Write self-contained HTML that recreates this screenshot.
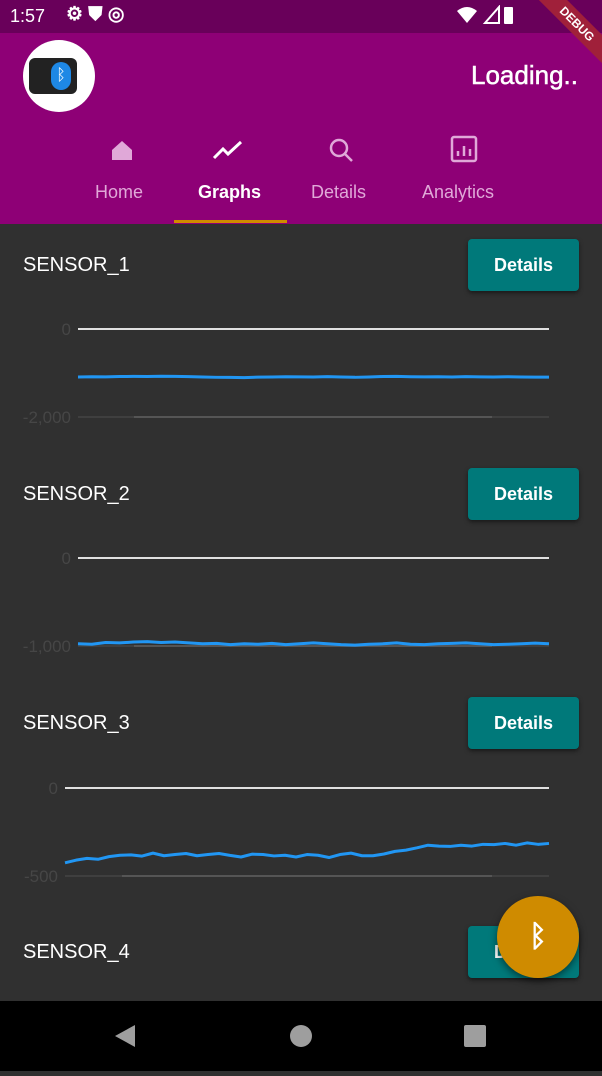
<!DOCTYPE html>
<html><head><meta charset="utf-8">
<style>
*{margin:0;padding:0;box-sizing:border-box}
body{width:602px;height:1071px;overflow:hidden;background:#303030;font-family:"Liberation Sans",sans-serif;position:relative}
.abs{position:absolute}
.title{position:absolute;left:23px;color:#fff;font-size:20px}
.btn{position:absolute;left:468px;width:111px;height:52px;background:#00797a;border-radius:4px;color:#fff;font-size:18px;font-weight:bold;text-align:center;line-height:52px;box-shadow:0 2px 4px rgba(0,0,0,.5)}
.tab{position:absolute;top:182px;font-size:18px;color:#e0a8d8;text-align:center}
</style></head><body>
<div class="abs" style="left:0;top:0;width:602px;height:33px;background:#69005a;color:#fff">
 <span class="abs" style="left:10px;top:6px;font-size:18px">1:57</span>
 <span class="abs" style="left:66px;top:3px;font-size:19px;font-weight:bold">⚙ ⛊ ◎</span>
 <svg class="abs" style="left:455px;top:5px" width="60" height="22"><path d="M2 6 Q12 -2 22 6 L12 18 Z" fill="#fff"/><path d="M44 2 V18 H30 Z" fill="none" stroke="#fff" stroke-width="2"/></svg>
 <span class="abs" style="left:504px;top:7px;width:9px;height:17px;background:#fff;border-radius:1px"></span>
</div>
<div class="abs" style="left:0;top:33px;width:602px;height:191px;background:#8e0076">
 <div class="abs" style="left:23px;top:7px;width:72px;height:72px;border-radius:50%;background:#fff;overflow:hidden">
  <div class="abs" style="left:6px;top:18px;width:48px;height:36px;background:#222;border-radius:6px"></div>
  <div class="abs" style="left:28px;top:22px;width:20px;height:28px;background:#1e88e5;border-radius:10px;color:#fff;font-size:16px;text-align:center;line-height:28px">ᛒ</div>
 </div>
 <span class="abs" style="right:24px;top:27px;color:#fff;font-size:26px;-webkit-text-stroke:0.5px #fff">Loading..</span>
 <svg class="abs" style="left:102px;top:101px" width="420" height="40">
  <path d="M10 26 V16 L20 7 L30 16 V26 Z" fill="#e0a8d8"/>
  <polyline points="112,24 121,15 126,20 139,8" stroke="#fff" stroke-width="3" fill="none"/>
  <circle cx="237" cy="14" r="8" stroke="#e0a8d8" stroke-width="2.5" fill="none"/><line x1="243" y1="20" x2="250" y2="27" stroke="#e0a8d8" stroke-width="2.5"/>
  <rect x="350" y="3" width="24" height="24" rx="2" stroke="#e0a8d8" stroke-width="2.5" fill="none"/>
  <path d="M356 22 V17 M362 22 V12 M368 22 V15" stroke="#e0a8d8" stroke-width="2.5"/>
 </svg>
 <span class="tab" style="left:95px;top:149px">Home</span>
 <span class="tab" style="left:198px;top:149px;color:#fff;font-weight:bold">Graphs</span>
 <span class="tab" style="left:311px;top:149px">Details</span>
 <span class="tab" style="left:422px;top:149px">Analytics</span>
 <div class="abs" style="left:174px;top:187px;width:113px;height:3px;background:#d08b00"></div>
</div>
<div class="abs" style="left:512px;top:14px;width:130px;height:20px;background:#a0203a;transform:rotate(45deg);color:#fff;font-size:12px;font-weight:bold;text-align:center;line-height:20px">DEBUG</div>

<div class="title" style="top:254px">SENSOR_1</div>
<div class="btn" style="top:239px">Details</div>
<div class="title" style="top:483px">SENSOR_2</div>
<div class="btn" style="top:468px">Details</div>
<div class="title" style="top:712px">SENSOR_3</div>
<div class="btn" style="top:697px">Details</div>
<div class="title" style="top:941px">SENSOR_4</div>
<div class="btn" style="top:926px">Details</div>

<svg class="abs" id="charts" style="left:0;top:0" width="602" height="1000"></svg>

<div class="abs" style="left:497px;top:896px;width:82px;height:82px;border-radius:50%;background:#cf8b00;box-shadow:0 3px 8px rgba(0,0,0,.5);color:#fff;font-size:30px;text-align:center;line-height:82px;font-weight:bold">ᛒ</div>
<div class="abs" style="left:0;top:1001px;width:602px;height:70px;background:#000">
 <svg width="602" height="70"><path d="M115 35 L135 24 V46 Z" fill="#9e9e9e"/><circle cx="301" cy="35" r="11" fill="#9e9e9e"/><rect x="464" y="24" width="22" height="22" rx="2" fill="#9e9e9e"/></svg>
</div>
<script>
const s1Values=[-1090,-1085,-1088,-1080,-1078,-1080,-1075,-1078,-1082,-1090,-1098,-1100,-1105,-1095,-1090,-1085,-1088,-1090,-1082,-1092,-1098,-1090,-1080,-1078,-1085,-1088,-1085,-1090,-1082,-1088,-1090,-1085,-1092,-1095,-1095];
const s2Values=[-975,-980,-960,-965,-955,-950,-960,-955,-965,-975,-970,-985,-975,-980,-970,-985,-975,-965,-975,-985,-990,-980,-975,-965,-980,-985,-975,-970,-965,-975,-985,-980,-975,-968,-975];
const s3Values=[-425,-410,-400,-405,-390,-382,-380,-387,-370,-385,-378,-372,-385,-378,-372,-383,-392,-376,-378,-386,-382,-392,-378,-382,-395,-378,-370,-385,-385,-375,-360,-353,-340,-325,-330,-332,-325,-330,-320,-322,-315,-325,-312,-320,-315];
const charts=[
 {vals:s1Values,top:329,bot:417,min:-2000,x0:78,inner:[134,492],ticks:["0","-2,000"]},
 {vals:s2Values,top:558,bot:646,min:-1000,x0:78,inner:[134,492],ticks:["0","-1,000"]},
 {vals:s3Values,top:788,bot:876,min:-500,x0:65,inner:[122,492],ticks:["0","-500"]}
];
const NS="http://www.w3.org/2000/svg";
const svg=document.getElementById('charts');
function mk(t,a){const e=document.createElementNS(NS,t);for(const k in a)e.setAttribute(k,a[k]);svg.appendChild(e);return e;}
charts.forEach((c,i)=>{
 const x1=549;
 const yS=v=>c.top+(v/c.min)*(c.bot-c.top);
 const xS=j=>c.x0+j*(x1-c.x0)/(c.vals.length-1);
 const z=mk('line',{x1:c.x0,x2:x1,y1:c.top,y2:c.top,stroke:'#e0e0e0','stroke-width':2});
 
 
 const b=mk('line',{x1:c.x0,x2:x1,y1:c.bot,y2:c.bot,stroke:'#3f3f3f','stroke-width':2});
 
 
 const bi=mk('line',{x1:c.inner[0],x2:c.inner[1],y1:c.bot,y2:c.bot,stroke:'#555','stroke-width':2});
 
 
 c.ticks.forEach((t,k)=>{
  const e=mk('text',{x:c.x0-7,y:(k?c.bot:c.top)+6,'text-anchor':'end','font-size':17,fill:'#464646','font-family':'Liberation Sans, sans-serif'});
  e.textContent=t;
  
  
 });
 const p=mk('polyline',{points:c.vals.map((v,j)=>xS(j)+','+yS(v)).join(' '),fill:'none',stroke:'#2196f3','stroke-width':3,'stroke-linejoin':'round'});
 
 
});
</script>
</body></html>
